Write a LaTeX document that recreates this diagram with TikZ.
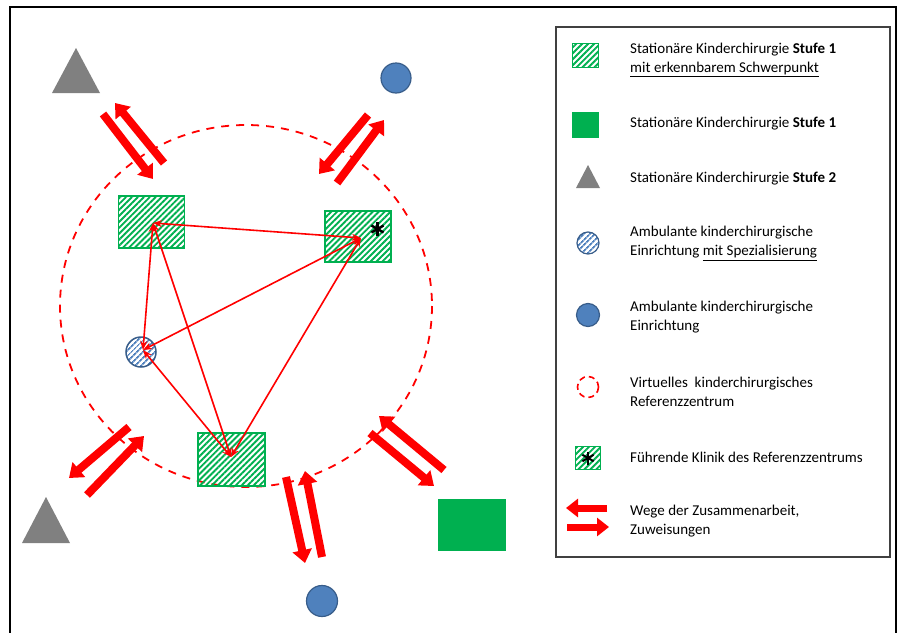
\documentclass[tikz,border=0pt]{standalone}
\usepackage{fontspec}
\setmainfont{Carlito}
\usetikzlibrary{arrows.meta,patterns.meta}
\definecolor{cgreen}{HTML}{00B050}
\definecolor{cblue}{HTML}{4F81BD}
\definecolor{cblueb}{HTML}{385D8A}
\definecolor{cgray}{HTML}{808080}
\definecolor{cred}{HTML}{FF0000}
\tikzset{
  hatchrect/.style={draw=cgreen,line width=1.5pt,pattern={Lines[angle=45,distance=4.2pt,line width=1.9pt]},pattern color=cgreen},
  solidrect/.style={draw=cgreen,fill=cgreen},
  hatchcirc/.style={circle,draw=cblueb,line width=1.5pt,pattern={Lines[angle=45,distance=4pt,line width=1.8pt]},pattern color=cblue},
  bluecirc/.style={circle,draw=cblueb,fill=cblue,line width=1.2pt},
  graytri/.style={fill=cgray},
  starline/.style={draw=black,line width=2.4pt},
  link/.style={draw=cred,line width=1.6pt,{Stealth[length=9pt 0,width=7pt 0]}-{Stealth[length=9pt 0,width=7pt 0]}},
  bigarrow/.style={draw=cred,line width=8pt,-{Triangle[length=13pt 0,width=19pt 0]}},
  legtext/.style={anchor=west,align=left,inner sep=0pt,font=\fontsize{15}{19}\selectfont},
}
\begin{document}
\begin{tikzpicture}[x=1pt,y=-1pt]
\clip (0,0) rectangle (904,632);
\fill[white] (0,0) rectangle (904,632);
% outer frame
\draw[black,line width=1.3pt] (10,660) -- (10,7) -- (896,7) -- (896,660);
% virtual centre
\draw[cred,line width=1.8pt,dash pattern=on 8pt off 7pt] (246,306) ellipse [x radius=186,y radius=181];
% shapes
\node[hatchrect,minimum width=66pt,minimum height=52pt,inner sep=0pt] (r1) at (151.5,222) {};
\node[hatchrect,minimum width=66pt,minimum height=51pt,inner sep=0pt] (r2) at (358,236.5) {};
\node[hatchrect,minimum width=67pt,minimum height=53pt,inner sep=0pt] (r3) at (231.5,459.5) {};
\node[hatchcirc,minimum size=30pt,inner sep=0pt] (hc) at (141,352) {};
\coordinate (star) at (377.5,229);
\draw[starline] ([shift={(90:7)}]star) -- ([shift={(-90:7)}]star);
\draw[starline] ([shift={(30:7)}]star) -- ([shift={(210:7)}]star);
\draw[starline] ([shift={(150:7)}]star) -- ([shift={(-30:7)}]star);
\node[solidrect,minimum width=67pt,minimum height=51pt,inner sep=0pt] (gr) at (471.5,524.5) {};
\node[bluecirc,minimum size=30pt,inner sep=0pt] (b1) at (396,78) {};
\node[bluecirc,minimum size=31pt,inner sep=0pt] (b2) at (322,601) {};
\path[graytri] (76,48) coordinate (t1) -- (100,93) -- (52,93) -- cycle;
\path[graytri] (46,497) coordinate (t2) -- (70,543) -- (22,543) -- cycle;
% hubs
\coordinate (h1) at (153,223);
\coordinate (h2) at (361,238);
\coordinate (h3) at (143,350);
\coordinate (h4) at (231,457);
\draw[link] (h1) -- (h2);
\draw[link] (h1) -- (h3);
\draw[link] (h1) -- (h4);
\draw[link] (h2) -- (h3);
\draw[link] (h2) -- (h4);
\draw[link] (h3) -- (h4);
% big arrow pairs
\coordinate (a1s) at (103,114); \coordinate (a1e) at (153,179);
\coordinate (a2s) at (164,163); \coordinate (a2e) at (115,103);
\draw[bigarrow] (a1s) -- (a1e);
\draw[bigarrow] (a2s) -- (a2e);
\coordinate (b1s) at (368,115); \coordinate (b1e) at (319,174);
\coordinate (b2s) at (337,183); \coordinate (b2e) at (384,120);
\draw[bigarrow] (b1s) -- (b1e);
\draw[bigarrow] (b2s) -- (b2e);
\coordinate (c1s) at (129,427); \coordinate (c1e) at (69,478);
\coordinate (c2s) at (87,495); \coordinate (c2e) at (144,436);
\draw[bigarrow] (c1s) -- (c1e);
\draw[bigarrow] (c2s) -- (c2e);
\coordinate (d1s) at (286,477); \coordinate (d1e) at (305,563);
\coordinate (d2s) at (322,557); \coordinate (d2e) at (305,471);
\draw[bigarrow] (d1s) -- (d1e);
\draw[bigarrow] (d2s) -- (d2e);
\coordinate (e1s) at (444,470); \coordinate (e1e) at (379,416);
\coordinate (e2s) at (370,433); \coordinate (e2e) at (434,486);
\draw[bigarrow] (e1s) -- (e1e);
\draw[bigarrow] (e2s) -- (e2e);
% legend
\draw[black!75,line width=1.3pt] (556,27) rectangle (890,557);
\node[hatchrect,line width=1pt,minimum width=26pt,minimum height=24pt,inner sep=0pt] (l1) at (585.5,55) {};
\node[legtext] (lt1) at (630,60) {Stationäre Kinderchirurgie \textbf{Stufe 1}\\\underline{mit erkennbarem Schwerpunkt}};
\node[solidrect,minimum width=26pt,minimum height=25pt,inner sep=0pt] (l2) at (585.5,124.5) {};
\node[legtext] (lt2) at (630,124) {Stationäre Kinderchirurgie \textbf{Stufe 1}};
\path[graytri] (588,165) coordinate (l3) -- (600,188) -- (576,188) -- cycle;
\node[legtext] (lt3) at (630,179) {Stationäre Kinderchirurgie \textbf{Stufe 2}};
\node[hatchcirc,line width=1.2pt,minimum size=22pt,inner sep=0pt] (l4) at (588,243) {};
\node[legtext] (lt4) at (630,243.5) {Ambulante kinderchirurgische\\Einrichtung \underline{mit Spezialisierung}};
\node[bluecirc,minimum size=23pt,inner sep=0pt] (l5) at (588,315) {};
\node[legtext] (lt5) at (630,317.5) {Ambulante kinderchirurgische\\Einrichtung};
\draw[cred,line width=1.6pt,dash pattern=on 6pt off 4pt] (588,387) circle [radius=10.5];
\node[legtext] (lt6) at (630,392) {Virtuelles~ kinderchirurgisches\\Referenzzentrum};
\node[hatchrect,line width=1pt,minimum width=25pt,minimum height=23pt,inner sep=0pt] (l7) at (588,457.5) {};
\coordinate (l7s) at (588,458);
\draw[starline,line width=2pt] ([shift={(90:6.5)}]l7s) -- ([shift={(-90:6.5)}]l7s);
\draw[starline,line width=2pt] ([shift={(30:6.5)}]l7s) -- ([shift={(210:6.5)}]l7s);
\draw[starline,line width=2pt] ([shift={(150:6.5)}]l7s) -- ([shift={(-30:6.5)}]l7s);
\node[legtext] (lt7) at (630,457) {Führende Klinik des Referenzzentrums};
\coordinate (la1s) at (607,508); \coordinate (la1e) at (566,508);
\coordinate (la2s) at (567,527); \coordinate (la2e) at (609,527);
\draw[bigarrow,line width=7pt,-{Triangle[length=12pt 0,width=18pt 0]}] (la1s) -- (la1e);
\draw[bigarrow,line width=7pt,-{Triangle[length=12pt 0,width=18pt 0]}] (la2s) -- (la2e);
\node[legtext] (lt8) at (630,521) {Wege der Zusammenarbeit,\\Zuweisungen};
\end{tikzpicture}
\end{document}
